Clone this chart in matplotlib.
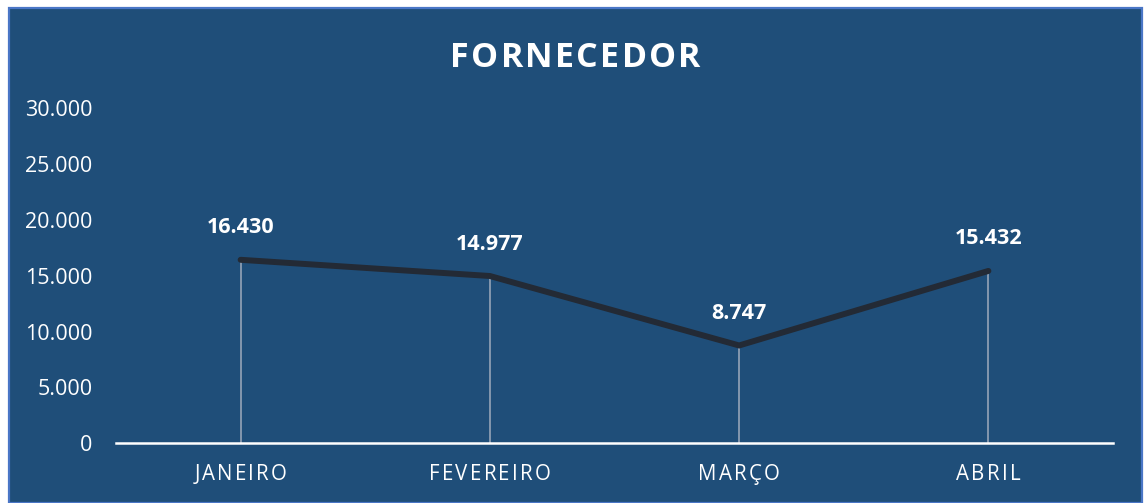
import matplotlib
matplotlib.use("Agg")
import matplotlib.pyplot as plt
import matplotlib.transforms as mtrans
from matplotlib.patches import Rectangle
from matplotlib.transforms import offset_copy
from matplotlib.font_manager import FontProperties

categories = ["JANEIRO", "FEVEREIRO", "MARÇO", "ABRIL"]
values = [16430, 14977, 8747, 15432]
value_labels = ["16.430", "14.977", "8.747", "15.432"]
yticks = [0, 5000, 10000, 15000, 20000, 25000, 30000]
ytick_labels = ["0", "5.000", "10.000", "15.000", "20.000", "25.000", "30.000"]
title = "FORNECEDOR"

BG = "#1F4E79"
W, H = 1144, 503
DPI = 100
fig = plt.figure(figsize=(W / DPI, H / DPI), dpi=DPI, facecolor="white")

# chart area with border
fig.patches.append(Rectangle((9 / W, 0), (1142 - 9) / W, (H - 7.5) / H,
                             transform=fig.transFigure, facecolor=BG,
                             edgecolor="#4A76C6", linewidth=1.6, zorder=-5))

ax = fig.add_axes([116 / W, 60 / H, (1113 - 116) / W, (394.5 - 60) / H])
ax.set_zorder(2)
ax.set_facecolor("none")
x = list(range(len(categories)))
ax.set_xlim(-0.5, len(categories) - 0.5)
ax.set_ylim(0, 30000)

# drop lines
ax.vlines(x, 0, values, colors="#8C9DB2", linewidth=1.3, zorder=2)
# baseline
ax.axhline(0, color="white", linewidth=1.8, zorder=3, clip_on=False)
# main line
ax.plot(x, values, color="#232A35", linewidth=4.3, solid_capstyle="round",
        solid_joinstyle="miter", zorder=4)

for s in ax.spines.values():
    s.set_visible(False)
ax.set_yticks(yticks)
ax.set_yticklabels(ytick_labels, fontsize=15.5, color="white", family="Open Sans")
ax.tick_params(axis="y", length=0, pad=17)
ax.set_xticks(x)
ax.set_xticklabels([])
ax.tick_params(axis="x", length=0)

renderer = fig.canvas.get_renderer()


def spaced_text(xv, yv, s, transform, spacing, prop, va="center"):
    widths = [renderer.get_text_width_height_descent(c, prop, ismath=False)[0] for c in s]
    total = sum(widths) + spacing * (len(s) - 1)
    off = -total / 2
    for c, w in zip(s, widths):
        tr = offset_copy(transform, fig=fig, x=off, y=0, units="dots")
        fig.text(xv, yv, c, transform=tr, ha="left", va=va,
                 fontproperties=prop, color="white", zorder=6)
        off += w + spacing


# title
tprop = FontProperties(family="Open Sans", weight="bold", size=24.5)
spaced_text(575.5 / W, (H - 54) / H, title, fig.transFigure, 2.3, tprop, va="center_baseline")

# category labels
cprop = FontProperties(family="Open Sans", size=14.8)
blend = mtrans.blended_transform_factory(ax.transData, fig.transFigure)
for xi, c in zip(x, categories):
    spaced_text(xi, (H - 472) / H, c, blend, 2.2, cprop, va="center_baseline")

# data labels
for xi, v, lab in zip(x, values, value_labels):
    ax.annotate(lab, (xi, v), xytext=(0, 23), textcoords="offset points",
                ha="center", va="center", fontsize=15.5, fontweight="bold",
                color="white", family="Open Sans", zorder=5)

fig.savefig("out.png", dpi=DPI, facecolor="white")
